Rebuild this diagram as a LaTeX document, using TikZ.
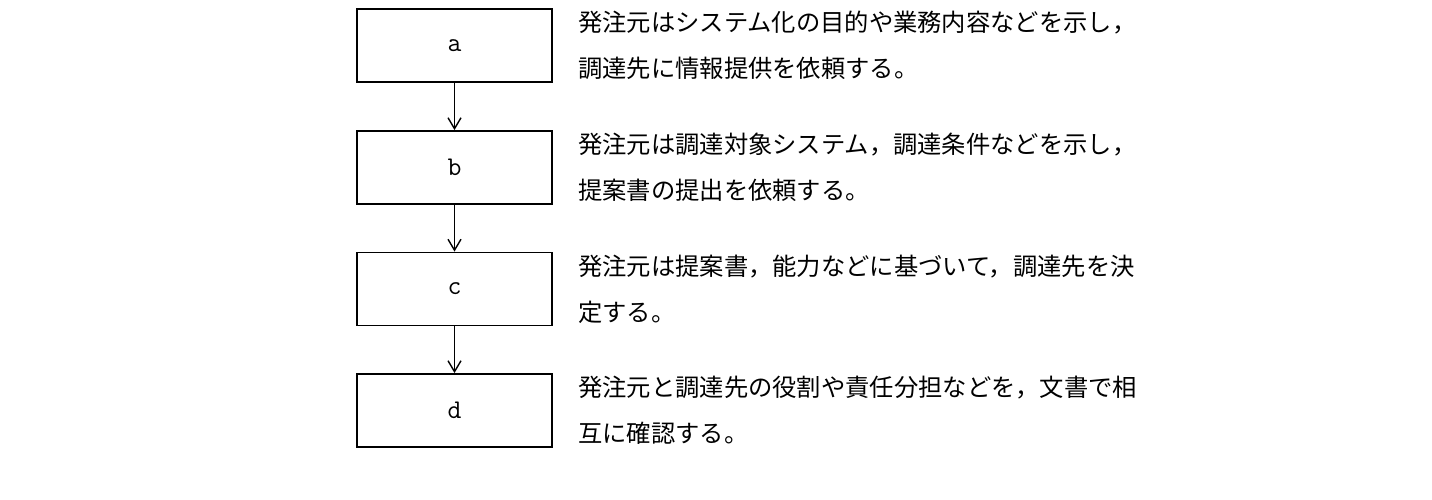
\documentclass[tikz,border=0pt]{standalone}
\usepackage{fontspec}
\newfontfamily\jp{Noto Sans CJK JP}
\usetikzlibrary{arrows.meta}
\begin{document}
\begin{tikzpicture}[x=1pt,y=-1pt,
  stepbox/.style={draw,line width=1.8pt,minimum width=195pt,minimum height=73pt,inner sep=0pt,font=\ttfamily\fontsize{27}{27}\selectfont},
  desc/.style={anchor=west,inner sep=0pt,align=left,font=\jp\fontsize{24.3}{46}\selectfont},
  conn/.style={line width=1.4pt,-{Straight Barb[length=11pt,width=13pt,line width=1.4pt]}}]
\useasboundingbox (0,0) rectangle (1432,500);
\node[stepbox] (a) at (454.5,45.5) {a};
\node[stepbox] (b) at (454.5,167.5) {b};
\node[stepbox] (c) at (454.5,289) {c};
\node[stepbox] (d) at (454.5,410.5) {d};
\draw[conn] (a) -- (b);
\draw[conn] (b) -- (c);
\draw[conn] (c) -- (d);
\node[desc] (ta) at (578,45.5) {発注元はシステム化の目的や業務内容などを示し，\\調達先に情報提供を依頼する。};
\node[desc] (tb) at (578,167.5) {発注元は調達対象システム，調達条件などを示し，\\提案書の提出を依頼する。};
\node[desc] (tc) at (578,289) {発注元は提案書，能力などに基づいて，調達先を決\\定する。};
\node[desc] (td) at (578,410.5) {発注元と調達先の役割や責任分担などを，文書で相\\互に確認する。};
\end{tikzpicture}
\end{document}
